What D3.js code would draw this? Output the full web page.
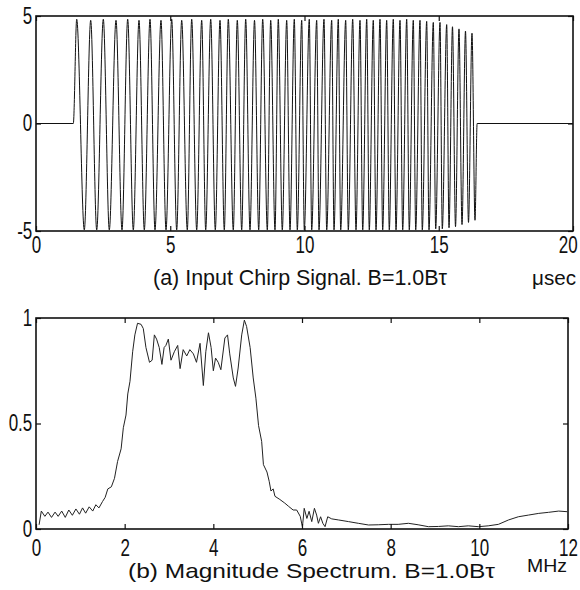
<!DOCTYPE html>
<html>
<head>
<meta charset="utf-8">
<script src="https://cdn.jsdelivr.net/npm/d3@7"></script>
<style>
  body { margin: 0; background: #fff; }
  text { font-family: "Liberation Sans Narrow", "Arial Narrow", "Liberation Sans", sans-serif; fill: #111; }
</style>
</head>
<body>
<svg id="chart" width="580" height="590"></svg>
<script>
// (a) chirp signal: times (usec) of the zero run, each crest / trough, and the trailing zero run
const chirpTimes = [
  0, 1.39,
  1.516, 1.799, 2.037, 2.261, 2.507, 2.730, 2.980, 3.203, 3.415, 3.624,
  3.836, 4.034, 4.246, 4.432, 4.655, 4.842, 5.054, 5.240, 5.426, 5.635,
  5.799, 5.985, 6.171, 6.320, 6.507, 6.678, 6.853, 7.013, 7.162, 7.348,
  7.497, 7.661, 7.810, 7.970, 8.138, 8.294, 8.443, 8.615, 8.741, 8.901,
  9.024, 9.173, 9.337, 9.460, 9.620, 9.732, 9.896, 9.993, 10.179, 10.268,
  10.454, 10.540, 10.726, 10.827, 11.013, 11.099, 11.259, 11.348, 11.534, 11.631,
  11.795, 11.918, 12.067, 12.168, 12.317, 12.413, 12.562, 12.663, 12.812, 12.912,
  13.061, 13.158, 13.307, 13.408, 13.557, 13.657, 13.806, 13.903, 14.052, 14.142,
  14.302, 14.387, 14.551, 14.637, 14.797, 14.886, 15.047, 15.132, 15.296, 15.382,
  15.512, 15.624, 15.754, 15.866, 15.996, 16.108, 16.238, 16.350,
  16.43, 20
];
const chirpValues = [
  0, 0,
  4.85, -4.95, 4.8, -4.95, 4.85, -4.95, 4.8, -4.95, 4.85, -4.95,
  4.8, -4.95, 4.85, -4.95, 4.8, -4.95, 4.85, -4.95, 4.8, -4.95,
  4.85, -4.95, 4.8, -4.95, 4.85, -4.95, 4.8, -4.95, 4.85, -4.95,
  4.8, -4.95, 4.85, -4.95, 4.8, -4.95, 4.85, -4.95, 4.8, -4.95,
  4.85, -4.95, 4.8, -4.95, 4.85, -4.95, 4.8, -4.95, 4.85, -4.95,
  4.8, -4.95, 4.85, -4.95, 4.8, -4.95, 4.85, -4.95, 4.8, -4.95,
  4.85, -4.95, 4.8, -4.95, 4.85, -4.95, 4.8, -4.95, 4.85, -4.95,
  4.8, -4.95, 4.85, -4.95, 4.8, -4.95, 4.85, -4.95, 4.8, -4.95,
  4.8, -4.95, 4.75, -4.95, 4.7, -4.9, 4.7, -4.9, 4.6, -4.85,
  4.5, -4.8, 4.4, -4.7, 4.3, -4.6, 4.2, -4.5,
  0, 0
];

// (b) magnitude spectrum: frequency (MHz) and normalised magnitude
const specFreq = [
  0.07, 0.12, 0.20, 0.27, 0.35, 0.43, 0.50, 0.58, 0.66, 0.74, 0.82, 0.90, 0.98,
  1.05, 1.12, 1.20, 1.28, 1.35, 1.42, 1.50, 1.56, 1.62, 1.70, 1.77, 1.84, 1.92,
  1.97, 2.03, 2.07, 2.12, 2.18, 2.23, 2.29, 2.37, 2.42, 2.48, 2.56, 2.62, 2.67,
  2.72, 2.78, 2.84, 2.89, 2.93, 2.985, 3.045, 3.12, 3.196, 3.25, 3.32, 3.40, 3.47,
  3.55, 3.62, 3.70, 3.775, 3.83, 3.89, 3.95, 4.00, 4.05, 4.11, 4.17, 4.26, 4.32,
  4.37, 4.45, 4.50, 4.56, 4.64, 4.70, 4.75, 4.83, 4.90, 4.96, 5.02, 5.09, 5.13,
  5.21, 5.26, 5.30, 5.35, 5.39, 5.50, 5.61, 5.70, 5.80, 5.88, 5.96, 6.01, 6.05,
  6.11, 6.16, 6.22, 6.28, 6.33, 6.37, 6.42, 6.47, 6.52, 6.58, 6.67, 6.82, 7.05,
  7.27, 7.50, 7.72, 7.95, 8.17, 8.40, 8.62, 8.85, 9.08, 9.30, 9.53, 9.75, 9.98,
  10.20, 10.43, 10.66, 10.88, 11.11, 11.34, 11.56, 11.79, 11.98
];
const specMag = [
  0.02, 0.085, 0.06, 0.08, 0.055, 0.08, 0.06, 0.085, 0.055, 0.09, 0.065, 0.095, 0.07,
  0.10, 0.075, 0.105, 0.085, 0.115, 0.10, 0.13, 0.15, 0.19, 0.20, 0.24, 0.32, 0.38,
  0.48, 0.54, 0.64, 0.70, 0.84, 0.92, 0.975, 0.97, 0.95, 0.86, 0.79, 0.80, 0.92,
  0.90, 0.86, 0.78, 0.86, 0.87, 0.90, 0.80, 0.84, 0.87, 0.76, 0.85, 0.82, 0.85,
  0.83, 0.79, 0.88, 0.68, 0.84, 0.93, 0.86, 0.75, 0.81, 0.79, 0.755, 0.905, 0.92,
  0.83, 0.716, 0.676, 0.763, 0.92, 0.99, 0.96, 0.86, 0.716, 0.62, 0.49, 0.415, 0.305,
  0.27, 0.226, 0.18, 0.19, 0.155, 0.14, 0.123, 0.107, 0.09, 0.09, 0.06, 0.01, 0.098,
  0.05, 0.084, 0.035, 0.098, 0.066, 0.027, 0.058, 0.027, 0.011, 0.058, 0.048, 0.043, 0.035,
  0.027, 0.019, 0.02, 0.022, 0.022, 0.027, 0.02, 0.011, 0.012, 0.015, 0.011, 0.015, 0.011,
  0.015, 0.022, 0.043, 0.058, 0.066, 0.074, 0.079, 0.085, 0.082
];

// Tick values and labels
const chirpXTicks = [0, 5, 10, 15, 20];
const chirpYTicks = [-5, 0, 5];
const chirpYLabels = ["-5", "0", "5"];
const specXTicks = [0, 2, 4, 6, 8, 10, 12];
const specYTicks = [0, 0.5, 1];
const specYLabels = ["0", "0.5", "1"];

const svg = d3.select("#chart");
const narrow = "scale(0.74,1)"; // stand-in for a condensed face

// Draws a MATLAB style boxed axes with inward ticks on all four sides
function drawFrame(g, x, y, xTicks, yTicks, yLabels, xPad) {
  const [x0, x1] = x.range();
  const [y0, y1] = y.range();

  g.append("g")
    .attr("class", "x-bottom")
    .attr("transform", `translate(0,${y0})`)
    .call(d3.axisBottom(x).tickValues(xTicks).tickSize(-5).tickPadding(xPad).tickFormat(d3.format("d")));
  g.append("g")
    .attr("transform", `translate(0,${y1})`)
    .call(d3.axisTop(x).tickValues(xTicks).tickSize(-5).tickFormat(""));
  g.append("g")
    .attr("transform", `translate(${x0},0)`)
    .call(d3.axisLeft(y).tickValues(yTicks).tickSize(-5).tickPadding(5)
      .tickFormat((d, i) => yLabels[i]));
  g.append("g")
    .attr("transform", `translate(${x1},0)`)
    .call(d3.axisRight(y).tickValues(yTicks).tickSize(-5).tickFormat(""));

  g.selectAll(".domain").remove();
  g.selectAll(".tick line").attr("stroke", "#111").attr("stroke-width", 1.2);
  g.selectAll(".tick text")
    .attr("font-size", 23)
    .attr("fill", "#111")
    .attr("transform", narrow);

  g.append("rect")
    .attr("x", x0).attr("y", y1)
    .attr("width", x1 - x0).attr("height", y0 - y1)
    .attr("fill", "none").attr("stroke", "#111").attr("stroke-width", 1.6);
}

// ---- (a) Input chirp signal ----
const xa = d3.scaleLinear().domain([0, 20]).range([36, 573]);
const ya = d3.scaleLinear().domain([-5, 5]).range([231, 16]);
const ga = svg.append("g");

ga.append("path")
  .datum(chirpTimes.map((t, i) => [t, chirpValues[i]]))
  .attr("fill", "none")
  .attr("stroke", "#111")
  .attr("stroke-width", 1)
  .attr("d", d3.line().x(d => xa(d[0])).y(d => ya(d[1])).curve(d3.curveMonotoneX));

drawFrame(ga, xa, ya, chirpXTicks, chirpYTicks, chirpYLabels, 6);
// last label sits a little inside the edge, as in the original
ga.selectAll(".x-bottom .tick text").filter(d => d === 20).attr("x", -7);

ga.append("text")
  .attr("x", 153).attr("y", 285)
  .attr("font-size", 22)
  .attr("textLength", 294).attr("lengthAdjust", "spacingAndGlyphs")
  .text("(a) Input Chirp Signal. B=1.0B\u03c4");
ga.append("text")
  .attr("x", 532).attr("y", 285)
  .attr("font-size", 20)
  .attr("textLength", 44).attr("lengthAdjust", "spacingAndGlyphs")
  .text("\u03bcsec");

// ---- (b) Magnitude spectrum ----
const xb = d3.scaleLinear().domain([0, 12]).range([36, 568]);
const yb = d3.scaleLinear().domain([0, 1]).range([529, 318]);
const gb = svg.append("g");

gb.append("path")
  .datum(specFreq.map((f, i) => [f, specMag[i]]))
  .attr("fill", "none")
  .attr("stroke", "#222")
  .attr("stroke-width", 1)
  .attr("d", d3.line().x(d => xb(d[0])).y(d => yb(d[1])));

drawFrame(gb, xb, yb, specXTicks, specYTicks, specYLabels, 11);

gb.append("text")
  .attr("x", 128).attr("y", 578)
  .attr("font-size", 21)
  .attr("textLength", 367).attr("lengthAdjust", "spacingAndGlyphs")
  .text("(b) Magnitude Spectrum. B=1.0B\u03c4");
gb.append("text")
  .attr("x", 527).attr("y", 572)
  .attr("font-size", 19)
  .attr("textLength", 40).attr("lengthAdjust", "spacingAndGlyphs")
  .text("MHz");
</script>
</body>
</html>
